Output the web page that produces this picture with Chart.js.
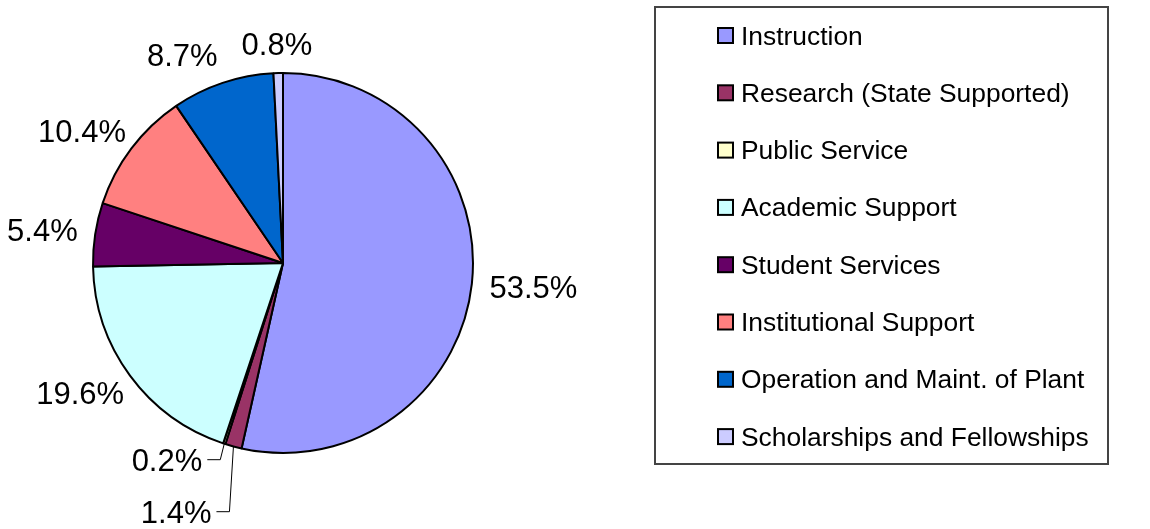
<!DOCTYPE html>
<html>
<head>
<meta charset="utf-8">
<script src="https://cdn.jsdelivr.net/npm/chart.js@4"></script>
<style>
    html, body { margin: 0; padding: 0; background: #fff; }
    #wrap { position: relative; width: 1150px; height: 529px; }
</style>
</head>
<body>
<div id="wrap"><canvas id="chart"></canvas></div>
<script>
// data (percent of total, clockwise from 12 o'clock)
const categories = [
    "Instruction",
    "Research (State Supported)",
    "Public Service",
    "Academic Support",
    "Student Services",
    "Institutional Support",
    "Operation and Maint. of Plant",
    "Scholarships and Fellowships",
];
const shares = [53.5, 1.4, 0.2, 19.6, 5.4, 10.4, 8.7, 0.8];
const sliceColors = [
    "#9999FF", "#993366", "#FFFFCC", "#CCFFFF",
    "#660066", "#FF8080", "#0066CC", "#CCCCFF",
];

const FONT_FAMILY = "'Liberation Sans', Arial, sans-serif";
const LABEL_SIZE = 31;
const LEGEND_SIZE = 26.4;

// percentage labels outside the pie, small crowded slices get leader lines
const pctLabels = {
    id: "pctLabels",
    afterDatasetsDraw(chart) {
        const ctx = chart.ctx;
        const arcs = chart.getDatasetMeta(0).data;
        const total = shares.reduce((a, b) => a + b, 0);
        const capH = LABEL_SIZE * 0.716;
        ctx.save();
        ctx.font = `${LABEL_SIZE}px ${FONT_FAMILY}`;

        const items = arcs.map((arc, i) => {
            const { x, y, startAngle, endAngle, outerRadius } = arc.getProps(
                ["x", "y", "startAngle", "endAngle", "outerRadius"],
                true
            );
            const mid = (startAngle + endAngle) / 2;
            const dx = Math.cos(mid);
            const dy = Math.sin(mid);
            const text = ((shares[i] / total) * 100).toFixed(1) + "%";
            const w = ctx.measureText(text).width;
            const R = outerRadius + 18;
            return {
                i, text, w, h: capH, dx, dy,
                ex: x + dx * outerRadius,
                ey: y + dy * outerRadius,
                cx: x + dx * (R + w / 2),
                cy: y + dy * (R + capH / 2),
                leader: false,
            };
        });

        const n = shares.length;
        const isSmall = (k) => shares[(k + n) % n] < 1.5;
        items.forEach((it) => {
            it.leader = isSmall(it.i) && (isSmall(it.i - 1) || isSmall(it.i + 1));
        });

        // leader labels: stacked below the edge point
        const crowded = items.filter((it) => it.leader).sort((a, b) => a.ex - b.ex);
        let prevY = null;
        crowded.forEach((it) => {
            const s = Math.sign(it.dx) || -1;
            it.cy = prevY === null ? it.ey + 16 : prevY + 52;
            it.cx = it.ex + s * (22 + it.w / 2);
            prevY = it.cy;
        });

        // the rest: nudge sideways when two boxes collide
        const placed = [...crowded];
        const overlaps = (a, b, pad) =>
            Math.abs(a.cx - b.cx) < (a.w + b.w) / 2 + pad &&
            Math.abs(a.cy - b.cy) < (a.h + b.h) / 2 + pad;
        items
            .filter((it) => !it.leader)
            .reverse()
            .forEach((it) => {
                placed.forEach((other) => {
                    if (overlaps(it, other, 4)) {
                        const s = Math.sign(it.dx) || -1;
                        it.cx = s < 0
                            ? other.cx - other.w / 2 - 24 - it.w / 2
                            : other.cx + other.w / 2 + 24 + it.w / 2;
                    }
                });
                placed.push(it);
            });

        ctx.fillStyle = "#000";
        ctx.strokeStyle = "#000";
        ctx.lineWidth = 1;
        ctx.textAlign = "center";
        ctx.textBaseline = "alphabetic";
        items.forEach((it) => {
            if (it.leader) {
                const s = Math.sign(it.dx) || -1;
                ctx.beginPath();
                ctx.moveTo(it.ex, it.ey);
                ctx.lineTo(it.ex + s * 4, it.cy);
                ctx.lineTo(it.ex + s * 17, it.cy);
                ctx.stroke();
            }
            ctx.fillText(it.text, it.cx, it.cy + capH / 2);
        });
        ctx.restore();
    },
};

// boxed legend on the right, like the spreadsheet original
const boxLegend = {
    id: "boxLegend",
    afterDraw(chart) {
        const ctx = chart.ctx;
        const box = { left: 655, top: 7, right: 1108, bottom: 464 };
        const firstRow = 35.5;
        const rowGap = 57.3;
        const markX = 718;
        const markSize = 15;
        const textX = 741;
        ctx.save();
        ctx.strokeStyle = "#444";
        ctx.lineWidth = 2;
        ctx.strokeRect(box.left, box.top, box.right - box.left, box.bottom - box.top);

        ctx.font = `${LEGEND_SIZE}px ${FONT_FAMILY}`;
        ctx.textAlign = "left";
        ctx.textBaseline = "alphabetic";
        categories.forEach((label, i) => {
            const cy = firstRow + i * rowGap;
            ctx.fillStyle = sliceColors[i];
            ctx.fillRect(markX, cy - markSize / 2, markSize, markSize);
            ctx.strokeStyle = "#000";
            ctx.lineWidth = 2;
            ctx.strokeRect(markX, cy - markSize / 2, markSize, markSize);
            ctx.fillStyle = "#000";
            ctx.fillText(label, textX, cy + 9);
        });
        ctx.restore();
    },
};

new Chart(document.getElementById("chart"), {
    type: "pie",
    data: {
        labels: categories,
        datasets: [
            {
                data: shares,
                backgroundColor: sliceColors,
                borderColor: "#000",
                borderWidth: 2,
                radius: 190,
            },
        ],
    },
    options: {
        responsive: true,
        maintainAspectRatio: false,
        animation: false,
        layout: {
            padding: { left: 93, top: 73, right: 677, bottom: 76 },
        },
        plugins: {
            legend: { display: false },
            tooltip: { enabled: false },
        },
    },
    plugins: [pctLabels, boxLegend],
});
</script>
</body>
</html>
